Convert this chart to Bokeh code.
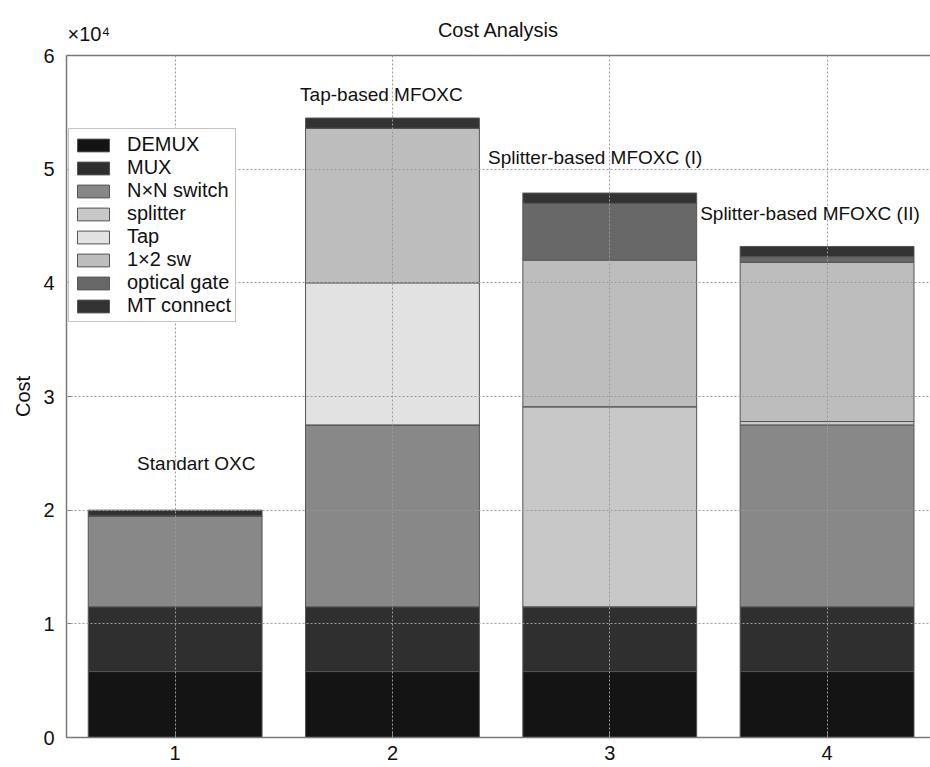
from bokeh.plotting import figure
from bokeh.models import (Range1d, FixedTicker, LinearAxis, Legend, Title,
                          LegendItem, ColumnDataSource)
from bokeh.core.properties import value
from bokeh.embed import file_html
from bokeh.resources import INLINE

# ---------------- data ----------------
positions = [1, 2, 3, 4]
demux = [5800, 5800, 5800, 5800]
mux = [5700, 5700, 5700, 5700]
nxn_switch = [8000, 16000, 0, 16000]
splitter = [0, 0, 17600, 300]
tap = [0, 12500, 0, 0]
sw_1x2 = [0, 13600, 12900, 14000]
optical_gate = [0, 0, 5000, 500]
mt_connect = [500, 900, 900, 900]

component_keys = ["demux", "mux", "nxn", "splitter", "tap", "sw12", "gate", "mt"]
component_names = ["DEMUX", "MUX", "N×N switch", "splitter", "Tap", "1×2 sw",
                   "optical gate", "MT connect"]
component_colors = ["#141414", "#2f2f2f", "#888888", "#c8c8c8", "#e2e2e2",
                    "#bdbdbd", "#686868", "#333333"]

y_ticks = [0, 10000, 20000, 30000, 40000, 50000, 60000]
y_tick_labels = ["0", "1", "2", "3", "4", "5", "6"]
x_ticks = [1, 2, 3, 4]
multiplier_text = "×10⁴"

annotation_texts = ["Standart OXC", "Tap-based MFOXC", "Splitter-based MFOXC (I)",
                    "Splitter-based MFOXC (II)"]
annotation_x = [0.825, 1.575, 2.44, 3.416]
annotation_y = [24100, 56550, 51000, 46100]

FONT = "Liberation Sans"
FS = "20px"
FS_ANN = "19px"

source = ColumnDataSource(dict(
    x=positions, demux=demux, mux=mux, nxn=nxn_switch, splitter=splitter,
    tap=tap, sw12=sw_1x2, gate=optical_gate, mt=mt_connect))

p = figure(width=930, height=767, output_backend="svg", toolbar_location=None,
           x_range=Range1d(0.5, 4.476), y_range=Range1d(0, 60000),
           min_border_left=66, min_border_right=0, min_border_top=55,
           min_border_bottom=30, background_fill_color="white",
           border_fill_color="white", outline_line_color=None)

# title
p.title.text = "Cost Analysis"
p.title.align = "center"
p.title.text_font = FONT
p.title.text_font_size = FS
p.title.text_font_style = "normal"
p.title.text_color = "#111111"
p.title.standoff = -62

renderers = p.vbar_stack(component_keys, x="x", width=0.8, source=source,
                         fill_color=component_colors, line_color="#555555",
                         line_width=1)

# axes
axis_col = "#777777"
for ax in (p.xaxis[0], p.yaxis[0]):
    ax.axis_line_color = axis_col
    ax.axis_line_width = 1.5
    ax.major_tick_line_color = axis_col
    ax.major_tick_in = 6
    ax.major_tick_out = 0
    ax.minor_tick_line_color = None
    ax.major_label_text_font = FONT
    ax.major_label_text_font_size = FS
    ax.major_label_text_color = "#111111"

p.xaxis[0].ticker = FixedTicker(ticks=x_ticks)
p.xaxis[0].major_label_standoff = 8
p.yaxis[0].ticker = FixedTicker(ticks=y_ticks)
p.yaxis[0].major_label_overrides = {t: l for t, l in zip(y_ticks, y_tick_labels)}
p.yaxis[0].major_label_standoff = 12
p.yaxis[0].axis_label = "Cost"
p.yaxis[0].axis_label_text_font = FONT
p.yaxis[0].axis_label_text_font_size = FS
p.yaxis[0].axis_label_text_font_style = "normal"
p.yaxis[0].axis_label_text_color = "#111111"
p.yaxis[0].axis_label_standoff = 6

# top border line (box) without tick labels
top_axis = LinearAxis(ticker=FixedTicker(ticks=[]), major_label_standoff=0,
                      major_tick_in=0, major_tick_out=0,
                      axis_line_color=axis_col, axis_line_width=1.5)
p.add_layout(top_axis, "above")

# multiplier, placed at the left edge above the frame
p.add_layout(Title(text=multiplier_text, align="left", offset=1, text_font=FONT,
                   text_font_size=FS, text_font_style="normal",
                   text_color="#111111", standoff=22), "above")

# grid
for g in (p.xgrid[0], p.ygrid[0]):
    g.grid_line_color = "#9a9a9a"
    g.grid_line_dash = "2 2"
    g.grid_line_width = 1
    g.level = "guide"
p.xgrid[0].ticker = FixedTicker(ticks=x_ticks)
p.ygrid[0].ticker = FixedTicker(ticks=y_ticks)

# annotations
ann_src = ColumnDataSource(dict(x=annotation_x, y=annotation_y, t=annotation_texts))
p.text(x="x", y="y", text="t", source=ann_src, text_font=value(FONT),
       text_font_size=value(FS_ANN), text_color="#111111", text_baseline="middle",
       text_align="left")

# legend
items = [LegendItem(label=n, renderers=[r]) for n, r in zip(component_names, renderers)]
legend = Legend(items=items, location=(2, 415), padding=4, spacing=0,
                glyph_width=40, glyph_height=16, label_standoff=14, label_height=22,
                label_text_font=FONT, label_text_font_size=FS,
                label_text_color="#111111", border_line_color="#888888",
                border_line_width=1.5, background_fill_color="white",
                background_fill_alpha=1.0, margin=0)
p.add_layout(legend)

open("out.html", "w").write(file_html(p, INLINE))
